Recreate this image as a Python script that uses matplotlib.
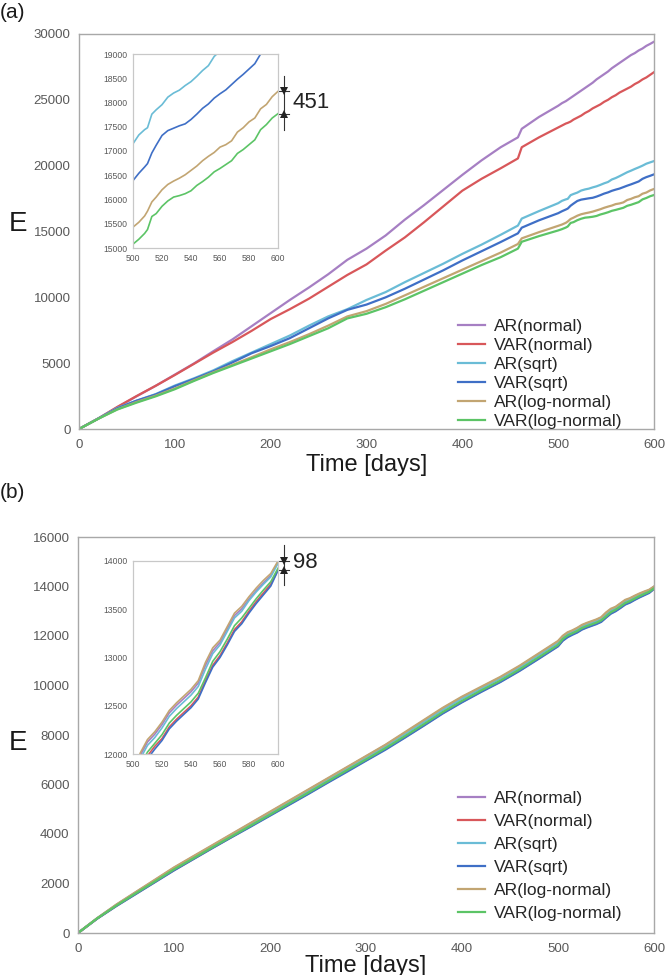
import matplotlib
matplotlib.use("Agg")
import matplotlib.pyplot as plt

plt.rcParams['font.family'] = ['Liberation Sans', 'DejaVu Sans']

# ---------------- data: panel (a) ----------------
days_a = [0, 20, 40, 60, 80, 100, 120, 140, 160, 180, 200, 220, 240, 260, 280, 300, 320, 340, 360, 380,
          400, 420, 440, 458, 462, 480, 500, 504, 508, 510, 513, 516, 520, 524, 528, 532, 536, 540, 544,
          548, 552, 556, 560, 564, 568, 572, 576, 580, 584, 588, 592, 596, 600]

ar_normal_a = [0, 780, 1650, 2480, 3280, 4130, 4980, 5900, 6800, 7800, 8800, 9800, 10750, 11750, 12850, 13700,
               14700, 15900, 17000, 18150, 19300, 20400, 21400, 22150, 22800, 23700, 24550, 24750, 24900, 25000,
               25150, 25300, 25500, 25700, 25900, 26100, 26300, 26550, 26750, 26950, 27150, 27400, 27600, 27800,
               28000, 28200, 28400, 28550, 28750, 28900, 29100, 29250, 29415]
var_normal_a = [0, 800, 1680, 2500, 3280, 4100, 4950, 5800, 6600, 7450, 8350, 9100, 9900, 10800, 11700, 12500,
                13550, 14550, 15700, 16900, 18100, 19000, 19800, 20550, 21400, 22150, 22900, 23050, 23200, 23250,
                23350, 23500, 23650, 23800, 24000, 24150, 24350, 24500, 24650, 24850, 25000, 25200, 25350, 25550,
                25700, 25850, 26000, 26200, 26350, 26550, 26700, 26900, 27100]
ar_sqrt_a = [0, 800, 1600, 2150, 2650, 3300, 3850, 4450, 5150, 5800, 6450, 7100, 7850, 8550, 9100, 9800,
             10400, 11150, 11850, 12550, 13300, 14000, 14750, 15450, 15980, 16550, 17150, 17330, 17440, 17480,
             17760, 17850, 17955, 18110, 18195, 18255, 18350, 18430, 18540, 18660, 18760, 18950, 19060, 19200,
             19350, 19500, 19620, 19750, 19870, 20000, 20150, 20250, 20350]
var_sqrt_a = [0, 790, 1570, 2150, 2620, 3250, 3800, 4380, 5050, 5750, 6300, 6900, 7650, 8400, 9050, 9450,
              10000, 10650, 11350, 12050, 12800, 13500, 14200, 14860, 15290, 15850, 16390, 16540, 16670, 16740,
              16960, 17120, 17320, 17420, 17470, 17520, 17560, 17650, 17760, 17880, 17970, 18090, 18180, 18260,
              18370, 18480, 18580, 18690, 18800, 19000, 19130, 19230, 19340]
ar_log_a = [0, 780, 1500, 2050, 2530, 3080, 3700, 4300, 4870, 5450, 6050, 6600, 7200, 7850, 8550, 8950,
            9500, 10150, 10800, 11450, 12100, 12750, 13400, 14050, 14480, 14950, 15430, 15530, 15660, 15760,
            15950, 16050, 16200, 16310, 16380, 16440, 16510, 16600, 16690, 16800, 16890, 16970, 17080, 17130,
            17210, 17390, 17480, 17600, 17680, 17870, 17960, 18120, 18230]
var_log_a = [0, 770, 1480, 2000, 2480, 3020, 3650, 4250, 4800, 5350, 5900, 6450, 7050, 7650, 8400, 8750,
             9250, 9850, 10500, 11150, 11800, 12450, 13050, 13700, 14220, 14650, 15080, 15180, 15300, 15380,
             15650, 15710, 15860, 15970, 16050, 16080, 16120, 16180, 16290, 16370, 16460, 16570, 16640, 16720,
             16800, 16950, 17030, 17130, 17230, 17440, 17545, 17680, 17770]

# ---------------- data: panel (b) ----------------
days_b = [0, 20, 40, 60, 80, 100, 120, 140, 160, 180, 200, 220, 240, 260, 280, 300, 320, 340, 360, 380,
          400, 420, 440, 460, 480, 500, 505, 510, 515, 520, 525, 530, 535, 540, 545, 550, 555, 560, 565,
          570, 575, 580, 585, 590, 595, 600]

ar_normal_b = [0, 590, 1140, 1640, 2130, 2630, 3080, 3530, 3980, 4430, 4880, 5330, 5780, 6230, 6680, 7130,
               7580, 8070, 8570, 9070, 9520, 9920, 10320, 10770, 11270, 11770, 11985, 12125, 12205, 12305,
               12425, 12505, 12575, 12645, 12735, 12920, 13070, 13155, 13295, 13435, 13505, 13605, 13695,
               13775, 13850, 13990]
var_normal_b = [0, 585, 1100, 1580, 2060, 2540, 2990, 3440, 3880, 4320, 4760, 5200, 5640, 6090, 6540, 6980,
                7430, 7900, 8390, 8890, 9340, 9760, 10160, 10610, 11100, 11600, 11830, 11980, 12080, 12160,
                12280, 12360, 12430, 12500, 12590, 12760, 12920, 13020, 13150, 13290, 13370, 13480, 13580,
                13670, 13760, 13905]
ar_sqrt_b = [0, 595, 1130, 1620, 2110, 2600, 3050, 3500, 3950, 4400, 4840, 5290, 5740, 6190, 6640, 7090,
             7540, 8030, 8520, 9020, 9470, 9880, 10290, 10730, 11230, 11730, 11950, 12090, 12170, 12270,
             12390, 12470, 12540, 12610, 12700, 12880, 13040, 13130, 13270, 13410, 13480, 13590, 13680,
             13760, 13835, 13975]
var_sqrt_b = [0, 580, 1090, 1570, 2050, 2530, 2980, 3430, 3870, 4300, 4740, 5180, 5620, 6070, 6510, 6960,
              7400, 7880, 8370, 8870, 9320, 9740, 10140, 10590, 11080, 11580, 11810, 11950, 12050, 12140,
              12260, 12340, 12410, 12480, 12570, 12740, 12900, 13000, 13130, 13270, 13350, 13460, 13560,
              13650, 13740, 13902]
ar_log_b = [0, 600, 1150, 1650, 2150, 2650, 3100, 3550, 4000, 4450, 4900, 5350, 5800, 6250, 6700, 7150,
            7600, 8100, 8600, 9100, 9550, 9950, 10350, 10800, 11300, 11800, 12010, 12150, 12230, 12330,
            12450, 12530, 12600, 12670, 12760, 12950, 13100, 13180, 13320, 13460, 13530, 13630, 13720,
            13800, 13870, 14000]
var_log_b = [0, 590, 1110, 1600, 2080, 2570, 3010, 3460, 3900, 4340, 4780, 5230, 5670, 6120, 6570, 7010,
             7460, 7940, 8430, 8930, 9380, 9800, 10200, 10650, 11140, 11640, 11880, 12020, 12110, 12200,
             12320, 12400, 12470, 12540, 12630, 12790, 12960, 13060, 13190, 13330, 13410, 13510, 13610,
             13700, 13785, 13925]

labels = ["AR(normal)", "VAR(normal)", "AR(sqrt)", "VAR(sqrt)", "AR(log-normal)", "VAR(log-normal)"]
colors = ["#a67fc3", "#d8575a", "#6abcd6", "#3f6fc6", "#c2a572", "#5cc466"]

series_a = [ar_normal_a, var_normal_a, ar_sqrt_a, var_sqrt_a, ar_log_a, var_log_a]
series_b = [ar_normal_b, var_normal_b, ar_sqrt_b, var_sqrt_b, ar_log_b, var_log_b]

a_yticks = [0, 5000, 10000, 15000, 20000, 25000, 30000]
b_yticks = [0, 2000, 4000, 6000, 8000, 10000, 12000, 14000, 16000]
xticks = [0, 100, 200, 300, 400, 500, 600]
ins_a_yticks = [15000, 15500, 16000, 16500, 17000, 17500, 18000, 18500, 19000]
ins_b_yticks = [12000, 12500, 13000, 13500, 14000]
ins_xticks = [500, 520, 540, 560, 580, 600]
diff_a = "451"
diff_b = "98"

# ---------------- layout ----------------
W, H = 666, 975
fig = plt.figure(figsize=(W / 100, H / 100), dpi=100)


def px_axes(l, t, r, b):
    return fig.add_axes([l / W, 1 - b / H, (r - l) / W, (b - t) / H])


TICK_C = "#595959"
SPINE_C = "#a8a8a8"


def style_main(ax, yticks, labelpad):
    for s in ax.spines.values():
        s.set_color(SPINE_C)
        s.set_linewidth(1.0)
    ax.set_xlim(0, 600)
    ax.set_ylim(yticks[0], yticks[-1])
    ax.set_xticks(xticks)
    ax.set_yticks(yticks)
    ax.tick_params(length=0, labelsize=9.5, labelcolor=TICK_C)
    ax.tick_params(axis='y', pad=6)
    ax.tick_params(axis='x', pad=7)
    ax.set_xlabel("Time [days]", fontsize=17, color="#1a1a1a", labelpad=labelpad)


def style_inset(ax, ylo, yhi, yticks):
    for s in ax.spines.values():
        s.set_color("#c8c8c8")
        s.set_linewidth(0.9)
    ax.set_xlim(500, 600)
    ax.set_ylim(ylo, yhi)
    ax.set_xticks(ins_xticks)
    ax.set_yticks(yticks)
    ax.tick_params(length=0, labelsize=6.2, labelcolor=TICK_C, pad=4)


def bracket(ax, ytop, ybot, yline_top, yline_bot, text, ytext):
    xv = 604
    kw = dict(color="#333333", lw=0.8, clip_on=False)
    ax.plot([xv, xv], [yline_top, yline_bot], **kw)
    ax.plot([601, 607.5], [ytop, ytop], **kw)
    ax.plot([601, 607.5], [ybot, ybot], **kw)
    ax.plot([xv], [ytop], marker='v', color="#222222", markersize=6, clip_on=False,
            markeredgewidth=0)
    ax.plot([xv], [ybot], marker='^', color="#222222", markersize=6, clip_on=False,
            markeredgewidth=0)
    ax.text(610, ytext, text, fontsize=16, color="#222222", va='center', ha='left', clip_on=False)


def add_legend(ax, top_px, spacing):
    leg = ax.legend(loc='upper left', bbox_to_anchor=(458 / W, 1 - top_px / H), bbox_transform=fig.transFigure,
                    frameon=False, fontsize=12.5, handlelength=1.55, handletextpad=0.5, labelspacing=spacing,
                    borderpad=0, borderaxespad=0)
    for t in leg.get_texts():
        t.set_color("#262626")


# ----- panel (a) -----
ax_a = px_axes(79, 34, 654, 429)
for ys, lab, c in zip(series_a, labels, colors):
    ax_a.plot(days_a, ys, color=c, lw=1.6, label=lab)
style_main(ax_a, a_yticks, 2)
add_legend(ax_a, 319, 0.22)
fig.text(18 / W, 1 - 224 / H, "E", fontsize=20, ha='center', va='center', color="#1a1a1a")
fig.text(0 / W, 1 - 13 / H, "(a)", fontsize=15, ha='left', va='center', color="#1a1a1a")

ins_a = px_axes(133, 54, 278, 248)
for ys, lab, c in zip(series_a, labels, colors):
    ins_a.plot(days_a, ys, color=c, lw=1.2)
style_inset(ins_a, 15000, 19000, ins_a_yticks)
bracket(ins_a, ar_log_a[-1], var_log_a[-1], 18540, 17440, diff_a, 18000)

# ----- panel (b) -----
ax_b = px_axes(78, 537, 654, 933)
for ys, lab, c in zip(series_b, labels, colors):
    ax_b.plot(days_b, ys, color=c, lw=1.6, label=lab)
style_main(ax_b, b_yticks, 0)
add_legend(ax_b, 791, 0.45)
fig.text(18 / W, 1 - 743 / H, "E", fontsize=20, ha='center', va='center', color="#1a1a1a")
fig.text(0 / W, 1 - 493 / H, "(b)", fontsize=15, ha='left', va='center', color="#1a1a1a")

ins_b = px_axes(133, 561, 278, 754)
for ys, lab, c in zip(series_b, labels, colors):
    ins_b.plot(days_b, ys, color=c, lw=1.2)
style_inset(ins_b, 12000, 14000, ins_b_yticks)
bracket(ins_b, max(s[-1] for s in series_b), min(s[-1] for s in series_b), 14166, 13751, diff_b, 14000 - 15)

fig.savefig("out.png", dpi=100)
